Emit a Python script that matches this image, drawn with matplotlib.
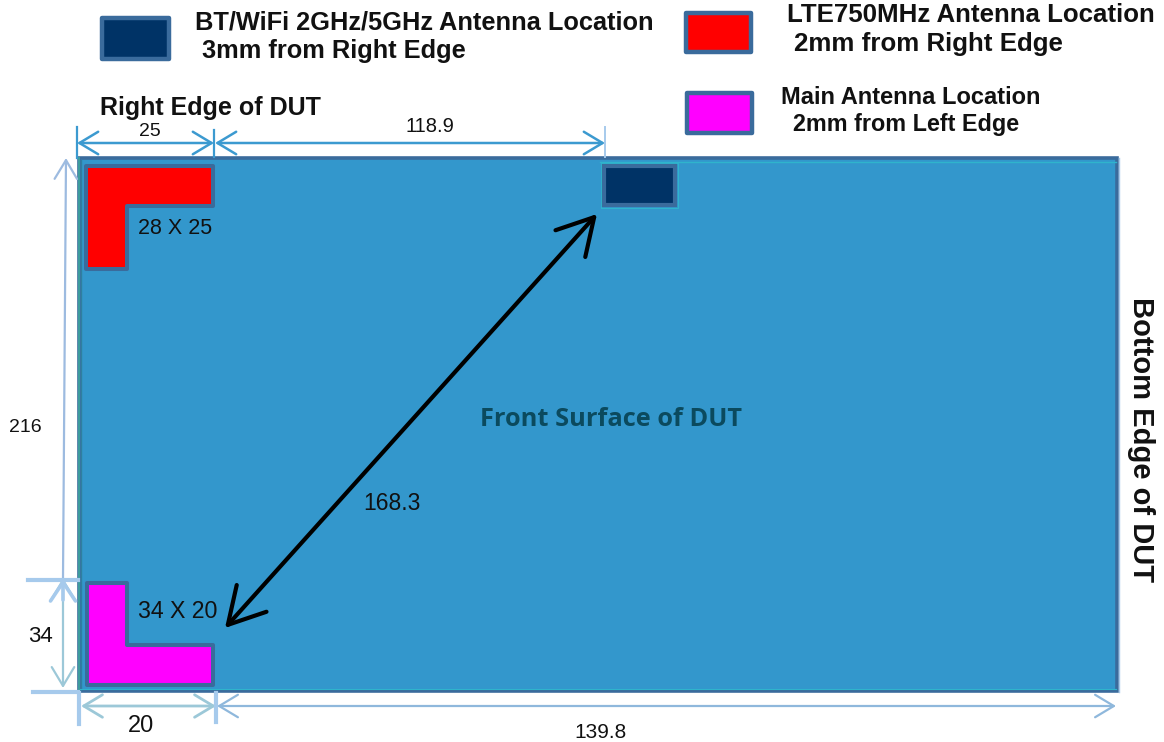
import matplotlib
matplotlib.use("Agg")
import matplotlib.pyplot as plt
from matplotlib.patches import Polygon, Rectangle, FancyArrowPatch

W, H = 1164, 742
plt.rcParams['font.family'] = ['Liberation Sans', 'DejaVu Sans']

BLUE = '#3397CC'; EDGE = '#3A6B9C'; NAVY = '#003366'; RED = '#FF0000'; MAG = '#FF00FF'
LINE = '#3C9AD0'; PALE = '#A6CAEC'; TEAL = '#9CC8D8'; CYAN = '#2FB4CC'; DARKTXT = '#111111'

# legend entries
legend_colors = [NAVY, RED, MAG]
legend_lines = [("BT/WiFi 2GHz/5GHz Antenna Location", "3mm from Right Edge"),
                ("LTE750MHz Antenna Location", "2mm from Right Edge"),
                ("Main Antenna Location", "2mm from Left Edge")]
swatches = [(99, 15, 171, 61), (683, 10, 753, 54), (684, 90, 754, 135)]
legend_text_pos = [((195, 22), (202, 51)), ((787, 15), (794, 44)), ((781, 97), (793, 124))]
legend_sizes = [(18.3, 18.3), (18.6, 18.6), (17.0, 16.8)]

# dimension labels as printed on the drawing
dim_labels = ["25", "118.9", "216", "34", "20", "139.8", "168.3"]
size_labels = ["28 X 25", "34 X 20"]

fig = plt.figure(figsize=(W/100, H/100), dpi=100)
ax = fig.add_axes([0, 0, 1, 1])
ax.set_xlim(0, W); ax.set_ylim(H, 0); ax.axis('off')

# device body
ax.add_patch(Rectangle((79, 158), 1038, 533, fc=BLUE, ec=EDGE, lw=2.6, zorder=1))
ax.plot([79, 79], [158, 692], color='#3E9E9E', lw=1.4, zorder=2)
ax.plot([81, 81], [160, 690], color='#2F7F9F', lw=1.0, zorder=2)
ax.plot([600, 1116], [161.5, 161.5], color=CYAN, lw=1.0, zorder=2)
ax.plot([80, 1116], [689, 689], color=CYAN, lw=0.8, zorder=2)
ax.plot([1118.5, 1118.5], [158, 692], color=PALE, lw=1.0, zorder=2)

# L-shaped antennas
red_L = [(86, 166), (213, 166), (213, 206), (126.5, 206), (126.5, 269), (86, 269)]
mag_L = [(86.5, 582.5), (126.5, 582.5), (126.5, 644.5), (213, 644.5), (213, 685), (86.5, 685)]
ax.add_patch(Polygon(red_L, closed=True, fc=RED, ec=EDGE, lw=2.9, joinstyle='round', zorder=3))
ax.add_patch(Polygon(mag_L, closed=True, fc=MAG, ec=EDGE, lw=2.9, joinstyle='round', zorder=3))
ax.add_patch(Rectangle((600.5, 163), 77, 45, fc='none', ec=CYAN, lw=0.8, zorder=3))
ax.add_patch(Rectangle((604, 165.5), 71, 39, fc=NAVY, ec=EDGE, lw=3.0, zorder=4))

# legend
for c, (x0, y0, x1, y1), (l1, l2), (p1, p2), (s1, s2) in zip(legend_colors, swatches, legend_lines, legend_text_pos, legend_sizes):
    ax.add_patch(Rectangle((x0+2.5, y0+2.5), x1-x0-5, y1-y0-5, fc=c, ec=EDGE, lw=3.2, joinstyle='round', zorder=3))
    ax.text(p1[0], p1[1], l1, fontsize=s1, fontweight='bold', va='center', ha='left', color=DARKTXT)
    ax.text(p2[0], p2[1], l2, fontsize=s2, fontweight='bold', va='center', ha='left', color=DARKTXT)

ax.text(100, 108, "Right Edge of DUT", fontsize=18, fontweight='bold', va='center', ha='left', color=DARKTXT)
ax.text(480, 419, "Front Surface of DUT", fontsize=18.3, fontweight='bold', va='center', ha='left', color='#0B4A5E',
        family=['Open Sans', 'DejaVu Sans'])
ax.text(1141, 440, "Bottom Edge of DUT", fontsize=21, fontweight='bold', rotation=270, va='center', ha='center', color=DARKTXT)

def dim(p, q, color, lw=1.6, ms=18, style='<->,head_length=0.75,head_width=0.45'):
    ax.add_patch(FancyArrowPatch(p, q, arrowstyle=style, mutation_scale=ms, color=color, lw=lw,
                                 shrinkA=0, shrinkB=0, zorder=2))

# dimension lines
dim((77, 143), (214, 143), LINE, lw=1.8)
dim((215, 143), (605, 143), LINE, lw=1.8)
dim((63, 578), (66, 158), '#9DBBE0', style='->,head_length=0.75,head_width=0.45')
dim((63, 578), (63, 688), TEAL)
ax.add_patch(FancyArrowPatch((63, 600), (63, 579), arrowstyle='->,head_length=0.75,head_width=0.5',
                             mutation_scale=18, color=PALE, lw=2.6, shrinkA=0, shrinkB=0, zorder=2))
dim((81, 706), (216, 706), TEAL, lw=2)
dim((217, 706), (1116, 706), '#8FB8DC', lw=1.6)

# extension ticks
for xs, ys, c, lw in [([77, 77], [127, 158], LINE, 1.6), ([214, 214], [130, 157], LINE, 1.6),
                      ([605, 605], [127, 157], PALE, 1.4), ([28, 78], [580, 580], PALE, 3),
                      ([33, 78], [692, 692], PALE, 3), ([79, 79], [693, 724], PALE, 3),
                      ([216, 216], [693, 722], PALE, 3)]:
    ax.plot(xs, ys, color=c, lw=lw, zorder=2)

# diagonal arrow
dim((225, 628), (597, 214), 'black', lw=3, ms=32, style='<->,head_length=0.8,head_width=0.45')

ax.text(150, 131, dim_labels[0], fontsize=14, va='center', ha='center', color=DARKTXT)
ax.text(430, 126, dim_labels[1], fontsize=14.5, va='center', ha='center', color=DARKTXT)
ax.text(25, 428, dim_labels[2], fontsize=14, va='center', ha='center', color=DARKTXT)
ax.text(40, 636, dim_labels[3], fontsize=16, va='center', ha='center', color=DARKTXT)
ax.text(141, 726, dim_labels[4], fontsize=17, va='center', ha='center', color=DARKTXT)
ax.text(601, 732, dim_labels[5], fontsize=15, va='center', ha='center', color=DARKTXT)
ax.text(392, 503, dim_labels[6], fontsize=16.5, va='center', ha='center', color=DARKTXT)
ax.text(175, 228, size_labels[0], fontsize=15.5, va='center', ha='center', color=DARKTXT)
ax.text(178, 611, size_labels[1], fontsize=16.7, va='center', ha='center', color=DARKTXT)

fig.savefig('out.png', dpi=100)
